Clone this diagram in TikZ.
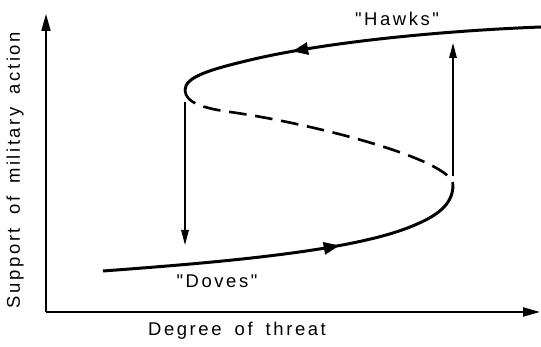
\documentclass[tikz,border=0pt]{standalone}
\usepackage{fontspec}
\newfontfamily\lblfont[LetterSpace=14, WordSpace=1.7]{Liberation Sans}
\usepackage{tikz}
\usetikzlibrary{arrows.meta,decorations.markings,calc,positioning}

\tikzset{
  axis/.style={line width=1.1pt, -{Triangle[length=3.4mm, width=1.8mm]}},
  branch/.style={line width=1.7pt},
  unstable/.style={line width=1.5pt, dash pattern=on 10pt off 5pt},
  jump/.style={line width=0.8pt, -{Triangle[length=3mm, width=1.5mm]}},
  lbl/.style={font=\lblfont\fontsize{10.5}{12}\selectfont},
  flowmark/.style={postaction={decorate, decoration={markings,
      mark=at position #1 with {\arrow{Triangle[length=3.2mm, width=2.4mm]}}}}}
}

\begin{document}
\begin{tikzpicture}
\useasboundingbox (0,0) rectangle (10.82,6.94);

% Axes
\coordinate (O) at (0.92,0.70);
\coordinate (ytip) at (0.92,6.66);
\coordinate (xtip) at (10.80,0.70);
\draw[axis] (O) -- (ytip);
\draw[axis] (O) -- (xtip);
\node[lbl] (xlab) at (4.74,0.32) {Degree of threat};
\node[lbl, rotate=90] (ylab) at (0.30,3.54) {Support of military action};

% Fold points of the S-curve
\coordinate (lowstart) at (2.06,1.52);
\coordinate (lownose) at (9.06,3.24);
\coordinate (upnose) at (3.70,5.14);
\coordinate (upend) at (10.82,6.40);

% Lower branch ("Doves")
\draw[branch, flowmark=0.635] (lowstart) .. controls (4.5,1.70) and (7.0,1.92) .. (8.2,2.40)
  .. controls (8.65,2.58) and (9.06,2.80) .. (lownose);

% Upper branch ("Hawks"), drawn right to left
\draw[branch, flowmark=0.68] (upend) .. controls (9.0,6.33) and (6.6,6.12) .. (5.0,5.74)
  .. controls (4.2,5.55) and (3.70,5.40) .. (upnose);

% Unstable middle branch
\draw[unstable] (upnose) .. controls (3.70,4.88) and (4.1,4.77) .. (4.6,4.70)
  .. controls (6.2,4.48) and (9.06,3.75) .. (lownose);

% Jumps
\coordinate (dropfrom) at (3.70,4.90);
\coordinate (dropto) at (3.70,2.04);
\coordinate (risefrom) at (9.06,3.42);
\coordinate (riseto) at (9.06,6.08);
\draw[jump] (dropfrom) -- (dropto);
\draw[jump] (risefrom) -- (riseto);

% Labels
\node[lbl] (hawks) at (7.94,6.56) {"Hawks"};
\node[lbl] (doves) at (4.34,1.32) {"Doves"};
\end{tikzpicture}
\end{document}
